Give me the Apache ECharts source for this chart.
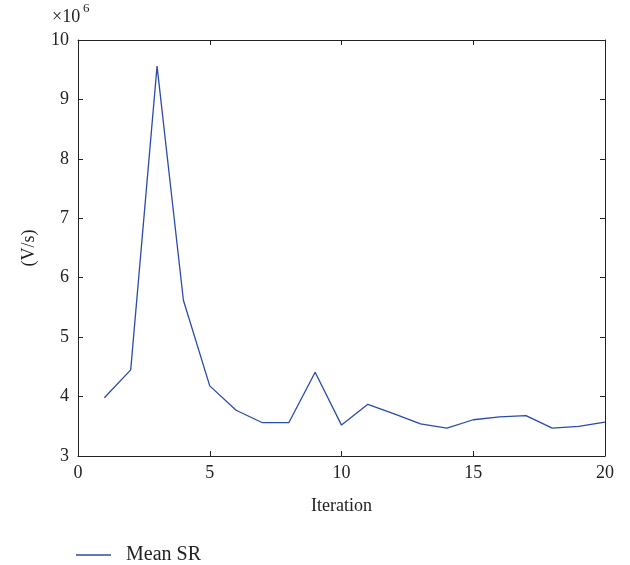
<!DOCTYPE html>
<html>
<head>
<meta charset="utf-8">
<script src="https://cdn.jsdelivr.net/npm/echarts@6/dist/echarts.min.js"></script>
<style>
  html, body { margin: 0; padding: 0; background: #fff; }
  #chart { width: 630px; height: 565px; }
</style>
</head>
<body>
<div id="chart"></div>
<script>
// Mean slew rate per iteration, in units of 10^6 V/s
const iterations = [1, 2, 3, 4, 5, 6, 7, 8, 9, 10, 11, 12, 13, 14, 15, 16, 17, 18, 19, 20];
const meanSR = [3.98, 4.45, 9.56, 5.62, 4.18, 3.77, 3.56, 3.56, 4.41, 3.52,
                3.87, 3.71, 3.54, 3.47, 3.61, 3.66, 3.68, 3.47, 3.50, 3.57];
const xTicks = { min: 0, max: 20, interval: 5 };
const yTicks = { min: 3, max: 10, interval: 1 };

const FONT = '"Liberation Serif", "DejaVu Serif", serif';
const INK = '#222';
const LINE = '#2b4ca6';

const chart = echarts.init(document.getElementById('chart'), null, { renderer: 'canvas' });

// Boxed frame: every side carries inward ticks; only left/bottom are labelled
function frameAxis(position, range, extra) {
  return Object.assign({
    type: 'value', position: position, offset: 0,
    min: range.min, max: range.max, interval: range.interval,
    axisLine: { show: true, onZero: false, lineStyle: { color: INK, width: 1 } },
    axisTick: { show: true, inside: true, length: 5, lineStyle: { color: INK } },
    axisLabel: { show: false },
    splitLine: { show: false }
  }, extra || {});
}

chart.setOption({
  animation: false,
  backgroundColor: '#fff',
  grid: { left: 78, right: 25, top: 40, bottom: 109 },
  legend: {
    left: 71, top: 540,
    icon: 'rect',
    itemWidth: 35, itemHeight: 1.5, itemGap: 10,
    textStyle: { fontFamily: FONT, fontSize: 20, color: INK, padding: [0, 0, 0, 10] },
    data: ['Mean SR']
  },
  xAxis: [
    frameAxis('bottom', xTicks, {
      name: 'Iteration', nameLocation: 'middle', nameGap: 41,
      nameTextStyle: { fontFamily: FONT, fontSize: 18, color: INK },
      axisLabel: { show: true, fontFamily: FONT, fontSize: 18, color: INK, margin: 8 }
    }),
    frameAxis('top', xTicks)
  ],
  yAxis: [
    frameAxis('left', yTicks, {
      name: '(V/s)', nameLocation: 'middle', nameGap: 40, nameRotate: 90,
      nameTextStyle: { fontFamily: FONT, fontSize: 18, color: INK },
      axisLabel: { show: true, fontFamily: FONT, fontSize: 18, color: INK, margin: 9 }
    }),
    frameAxis('right', yTicks)
  ],
  graphic: [
    {
      type: 'text', left: 52, top: 8,
      style: { text: '×10', fontFamily: FONT, fontSize: 18, fill: INK }
    },
    {
      type: 'text', left: 83, top: 2,
      style: { text: '6', fontFamily: FONT, fontSize: 13, fill: INK }
    }
  ],
  series: [{
    name: 'Mean SR',
    type: 'line',
    xAxisIndex: 0, yAxisIndex: 0,
    symbol: 'none',
    lineStyle: { color: LINE, width: 1.3 },
    itemStyle: { color: LINE },
    data: iterations.map((it, i) => [it, meanSR[i]])
  }]
});
</script>
</body>
</html>
